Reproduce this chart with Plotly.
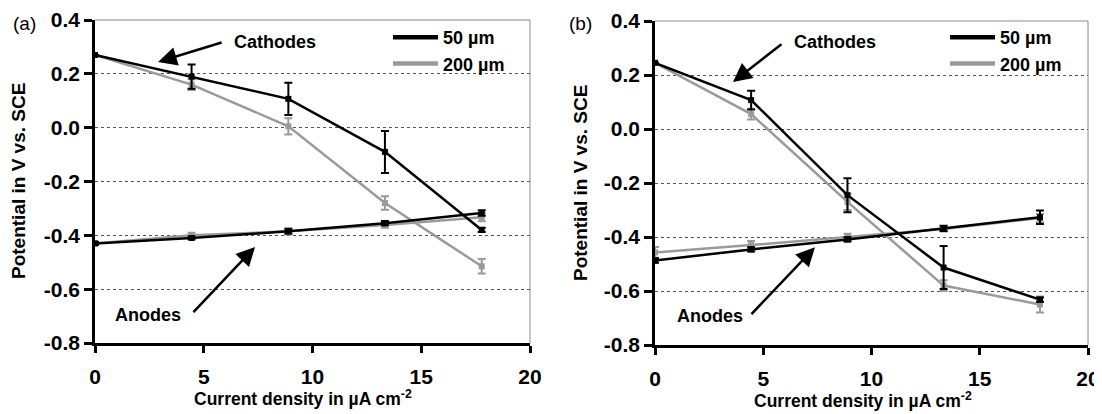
import plotly.graph_objects as go

# ---------------- data ----------------
current_density = [0, 4.44, 8.89, 13.33, 17.78]

# panel (a)
a_cath_50 = [0.27, 0.19, 0.107, -0.09, -0.38]
a_cath_50_err = [0.0, 0.045, 0.06, 0.078, 0.008]
a_cath_200 = [0.27, 0.16, 0.005, -0.28, -0.515]
a_cath_200_err = [0.0, 0.02, 0.03, 0.025, 0.027]
a_an_50 = [-0.43, -0.41, -0.385, -0.355, -0.317]
a_an_50_err = [0.005, 0.005, 0.008, 0.008, 0.01]
a_an_200 = [-0.43, -0.40, -0.385, -0.362, -0.333]
a_an_200_err = [0.005, 0.01, 0.012, 0.01, 0.015]

# panel (b)
b_cath_50 = [0.245, 0.107, -0.245, -0.513, -0.632]
b_cath_50_err = [0.0, 0.035, 0.063, 0.08, 0.008]
b_cath_200 = [0.245, 0.055, -0.27, -0.58, -0.65]
b_cath_200_err = [0.0, 0.02, 0.03, 0.02, 0.03]
b_an_50 = [-0.487, -0.446, -0.409, -0.368, -0.327]
b_an_50_err = [0.008, 0.008, 0.008, 0.01, 0.025]
b_an_200 = [-0.457, -0.43, -0.40, -0.37, -0.33]
b_an_200_err = [0.02, 0.015, 0.012, 0.01, 0.015]

series_names = ["50 µm", "200 µm"]
x_ticks = [0, 5, 10, 15, 20]
x_ticklabels = ["0", "5", "10", "15", "20"]
y_ticks = [-0.8, -0.6, -0.4, -0.2, 0.0, 0.2, 0.4]
y_ticklabels = ["-0.8", "-0.6", "-0.4", "-0.2", "0.0", "0.2", "0.4"]

# ---------------- style ----------------
OFF = 8                     # page body margin
W, H = 1102 - OFF, 414 - OFF
FONT = "Liberation Sans, Arial, sans-serif"
BLACK = "#000000"
GRAY = "#9a9a9a"


def PX(p):
    return (p - OFF) / W


def PY(p):
    return 1 - (p - OFF) / H


fig = go.Figure()


def add_series(y, err, color, xa, ya):
    fig.add_trace(go.Scatter(
        x=current_density, y=y, mode="lines+markers",
        line=dict(color=color, width=2.5),
        marker=dict(symbol="square", size=6, color=color),
        error_y=dict(type="data", array=err, color=color, thickness=2, width=4),
        xaxis=xa, yaxis=ya, showlegend=False, hoverinfo="x+y"))


# panel a (gray first so black sits on top)
add_series(a_cath_200, a_cath_200_err, GRAY, "x", "y")
add_series(a_an_200, a_an_200_err, GRAY, "x", "y")
add_series(a_cath_50, a_cath_50_err, BLACK, "x", "y")
add_series(a_an_50, a_an_50_err, BLACK, "x", "y")
# panel b
add_series(b_cath_200, b_cath_200_err, GRAY, "x2", "y2")
add_series(b_an_200, b_an_200_err, GRAY, "x2", "y2")
add_series(b_cath_50, b_cath_50_err, BLACK, "x2", "y2")
add_series(b_an_50, b_an_50_err, BLACK, "x2", "y2")

# legend entries
for lg, xa, ya in (("legend", "x", "y"), ("legend2", "x2", "y2")):
    for name, color in zip(series_names, (BLACK, GRAY)):
        fig.add_trace(go.Scatter(
            x=[None], y=[None], mode="lines", name=name,
            line=dict(color=color, width=4.5),
            xaxis=xa, yaxis=ya, legend=lg, showlegend=True))

xdom_a = [PX(95), PX(530)]
ydom_a = [PY(343), PY(20)]
xdom_b = [PX(655), PX(1088)]
ydom_b = [PY(345), PY(21)]

tickfont = dict(family=FONT, size=21, color="black", weight="bold")

xaxis_common = dict(
    range=[0, 20], tickvals=x_ticks, ticktext=x_ticklabels,
    showline=True, linewidth=2.5, linecolor="black",
    ticks="outside", ticklen=7, tickwidth=2.5, tickcolor="black",
    showgrid=False, zeroline=False, tickfont=tickfont,
    ticklabelstandoff=6, fixedrange=True, automargin=False)
yaxis_common = dict(
    range=[-0.8, 0.4], tickvals=y_ticks, ticktext=y_ticklabels,
    showline=True, linewidth=2.5, linecolor="black",
    ticks="outside", ticklen=8, tickwidth=2.5, tickcolor="black",
    showgrid=True, gridcolor="#555555", griddash="dot", gridwidth=1.3,
    zeroline=False, tickfont=tickfont, ticklabelstandoff=0, fixedrange=True,
    automargin=False)

legfont = dict(family=FONT, size=18, color="black", weight="bold")
fig.update_layout(
    width=W, height=H,
    margin=dict(l=0, r=0, t=0, b=0, pad=0, autoexpand=False),
    paper_bgcolor="white", plot_bgcolor="white",
    font=dict(family=FONT, color="black"),
    xaxis=dict(domain=xdom_a, anchor="y", **xaxis_common),
    yaxis=dict(domain=ydom_a, anchor="x", **yaxis_common),
    xaxis2=dict(domain=xdom_b, anchor="y2", **xaxis_common),
    yaxis2=dict(domain=ydom_b, anchor="x2", **yaxis_common),
    legend=dict(x=PX(388), y=PY(19), xanchor="left", yanchor="top",
                font=legfont, bgcolor="rgba(0,0,0,0)", itemwidth=45,
                tracegroupgap=0),
    legend2=dict(x=PX(945), y=PY(19), xanchor="left", yanchor="top",
                 font=legfont, bgcolor="rgba(0,0,0,0)", itemwidth=45,
                 tracegroupgap=0),
    showlegend=True,
)

# thin gray frame on top and right
shapes = []
for xr, yr in (("x domain", "y domain"), ("x2 domain", "y2 domain")):
    shapes.append(dict(type="line", xref=xr, yref=yr, x0=0, x1=1, y0=1, y1=1,
                       line=dict(color="#8a8a8a", width=1)))
    shapes.append(dict(type="line", xref=xr, yref=yr, x0=1, x1=1, y0=0, y1=1,
                       line=dict(color="#8a8a8a", width=1)))
fig.update_layout(shapes=shapes)

ann = []
labfont = dict(family=FONT, size=18, color="black", weight="bold")
titlefont = dict(family=FONT, size=17.5, color="black", weight="bold")
# axis titles
for cx, cy in ((18, 181), (580, 183)):
    ann.append(dict(text="Potential in V vs. SCE", textangle=-90,
                    x=PX(cx), y=PY(cy), xref="paper", yref="paper",
                    xanchor="center", yanchor="middle",
                    showarrow=False, font=dict(family=FONT, size=19, weight="bold")))
for cx, cy in ((303, 398), (863, 400)):
    ann.append(dict(text="Current density in µA cm<sup>-2</sup>",
                    x=PX(cx), y=PY(cy), xref="paper", yref="paper",
                    xanchor="center", yanchor="middle",
                    showarrow=False, font=titlefont))
# panel labels
for lbl, cx in (("(a)", 24), ("(b)", 580)):
    ann.append(dict(text=lbl, x=PX(cx), y=PY(24), xref="paper", yref="paper",
                    xanchor="center", yanchor="middle",
                    showarrow=False, font=dict(family=FONT, size=19)))

# Cathodes / Anodes annotations with arrows
arrows = [
    # (xref, yref, tip_x, tip_y, tail_x, tail_y)
    ("x", "y", 2.90, 0.244, 5.89, 0.318),
    ("x", "y", 7.36, -0.443, 4.46, -0.691),
    ("x2", "y2", 3.60, 0.174, 5.91, 0.318),
    ("x2", "y2", 7.39, -0.438, 4.39, -0.691),
]
for xr, yr, tx, ty, sx, sy in arrows:
    ann.append(dict(text="", x=tx, y=ty, ax=sx, ay=sy, xref=xr, yref=yr,
                    axref=xr, ayref=yr, showarrow=True, arrowhead=2,
                    arrowsize=1.5, arrowwidth=2.5, arrowcolor="black",
                    standoff=0, startstandoff=0))
texts = [
    ("x", "y", 6.30, 0.318, "Cathodes", "left"),
    ("x", "y", 4.05, -0.695, "Anodes", "right"),
    ("x2", "y2", 6.33, 0.322, "Cathodes", "left"),
    ("x2", "y2", 4.16, -0.691, "Anodes", "right"),
]
for xr, yr, x, y, t, anc in texts:
    ann.append(dict(text=t, x=x, y=y, xref=xr, yref=yr, xanchor=anc,
                    yanchor="middle", showarrow=False, font=labfont))
fig.update_layout(annotations=ann)

fig.write_html("out.html")
